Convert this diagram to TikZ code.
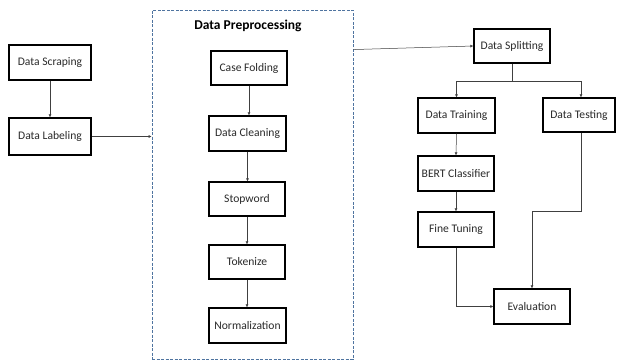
\documentclass[tikz,border=0pt]{standalone}
\usepackage{fontspec}
\setmainfont{Carlito}
\usetikzlibrary{arrows.meta}
\definecolor{dashblue}{HTML}{4F74A0}
\definecolor{txt}{HTML}{2A2A2A}
\tikzset{
  box/.style={draw=black, line width=1.3pt, fill=white, inner sep=0pt, text=txt, font=\fontsize{11.6}{13}\selectfont},
  arr/.style={draw=black!75, line width=0.5pt, -{Latex[length=3pt,width=3pt]}},
  ln/.style={draw=black!75, line width=0.5pt},
  dbox/.style={draw=dashblue, dashed, line width=0.9pt, dash pattern=on 3pt off 1.5pt, inner sep=0pt}
}
\begin{document}
\begin{tikzpicture}[x=1pt,y=-1pt]
\useasboundingbox[fill=white] (0,0) rectangle (617,360);
\node[dbox, minimum width=201pt, minimum height=349pt] (prep) at (252.5,184.5) {};
\node[font=\fontsize{13.5}{15}\selectfont\bfseries, text=black] (title) at (248,26) {Data Preprocessing};

\node[box, minimum width=82pt, minimum height=35pt] (scrap) at (50,62.5) {Data Scraping};
\node[box, minimum width=82pt, minimum height=37pt] (label) at (50,136.5) {Data Labeling};

\node[box, minimum width=76pt, minimum height=34pt] (case) at (249,68) {Case Folding};
\node[box, minimum width=77pt, minimum height=35pt] (clean) at (247.5,133.5) {Data Cleaning};
\node[box, minimum width=76pt, minimum height=34pt] (stop) at (247,199) {Stopword};
\node[box, minimum width=76pt, minimum height=34pt] (token) at (247,262) {Tokenize};
\node[box, minimum width=77pt, minimum height=35pt] (norm) at (247.5,325.5) {Normalization};

\node[box, minimum width=76pt, minimum height=34pt] (split) at (512,46) {Data Splitting};
\node[box, minimum width=77pt, minimum height=35pt] (train) at (456.5,115.5) {Data Training};
\node[box, minimum width=72pt, minimum height=34pt] (test) at (579,115) {Data Testing};
\node[box, minimum width=76pt, minimum height=35pt] (bert) at (456,173.5) {BERT Classifier};
\node[box, minimum width=76pt, minimum height=35pt] (fine) at (456,229.5) {Fine Tuning};
\node[box, minimum width=76pt, minimum height=35pt] (eval) at (532,306.5) {Evaluation};

\draw[arr] (scrap.south) -- (label.north);
\draw[arr] (label.east) -- (label.east -| prep.west);
\draw[arr] (case.south) -- (case.south |- clean.north);
\draw[arr] (clean.south) -- (clean.south |- stop.north);
\draw[arr] (stop.south) -- (token.north);
\draw[arr] (token.south) -- (token.south |- norm.north);

\coordinate (pe) at ([yshift=-40pt]prep.north east);
\draw[arr] (pe) -- (split.west);

\coordinate (sj) at ([yshift=-18pt]split.south);
\draw[ln] (split.south) -- (sj);
\draw[arr] (sj) -| (train.north);
\draw[arr] (sj) -| ([xshift=2pt]test.north);
\draw[arr] (train.south) -- (bert.north);
\draw[arr] (bert.south) -- (fine.north);
\draw[arr] (fine.south) |- (eval.west);
\coordinate (tj) at ([xshift=2pt,yshift=-79pt]test.south);
\draw[ln] ([xshift=2pt]test.south) -- (tj);
\draw[arr] (tj) -| (eval.north);
\end{tikzpicture}
\end{document}
